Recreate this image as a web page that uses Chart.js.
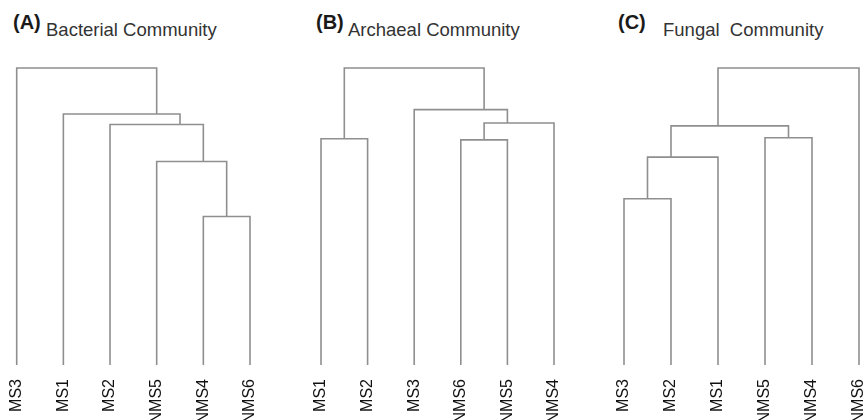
<!DOCTYPE html>
<html>
<head>
<meta charset="utf-8">
<script src="https://cdn.jsdelivr.net/npm/chart.js@4/dist/chart.umd.min.js"></script>
<style>
  html, body { margin: 0; padding: 0; background: #fff; overflow: hidden; }
  body { position: relative; width: 865px; height: 420px; }
  canvas { position: absolute; top: 0; }
  .tag { position: absolute; font: bold 20px "Liberation Sans", Arial, sans-serif; line-height: 20px; color: #1a1a1a; }
  .name { position: absolute; font: 18.5px "Liberation Sans", Arial, sans-serif; line-height: 18.5px; color: #333; white-space: pre; }
</style>
</head>
<body>
<div class="tag" style="left:13px; top:12px;">(A)</div>
<div class="name" style="left:46px; top:21px;">Bacterial Community</div>
<div class="tag" style="left:316px; top:12px;">(B)</div>
<div class="name" style="left:348px; top:21px;">Archaeal Community</div>
<div class="tag" style="left:618px; top:12px;">(C)</div>
<div class="name" style="left:663px; top:21px;">Fungal  Community</div>

<canvas id="chartA" width="290" height="420" style="left:0px"></canvas>
<canvas id="chartB" width="320" height="420" style="left:290px"></canvas>
<canvas id="chartC" width="320" height="420" style="left:580px"></canvas>

<script>
// leaf order along the x axis
const leavesA = ["MS3", "MS1", "MS2", "NMS5", "NMS4", "NMS6"];
const leavesB = ["MS1", "MS2", "MS3", "NMS6", "NMS5", "NMS4"];
const leavesC = ["MS3", "MS2", "MS1", "NMS5", "NMS4", "NMS6"];

// merges: each joins two members (leaf name, or index of an earlier merge)
const mergesA = [["NMS4", "NMS6"], ["NMS5", 0], ["MS2", 1], ["MS1", 2], ["MS3", 3]];
const heightsA = [0.50, 0.685, 0.81, 0.845, 1.00];

const mergesB = [["MS1", "MS2"], ["NMS6", "NMS5"], [1, "NMS4"], ["MS3", 2], [0, 3]];
const heightsB = [0.762, 0.758, 0.815, 0.86, 1.00];

const mergesC = [["MS3", "MS2"], [0, "MS1"], ["NMS5", "NMS4"], [1, 2], [3, "NMS6"]];
const heightsC = [0.56, 0.70, 0.765, 0.805, 1.00];

const lineColor = "#8f8f8f";

function buildLinks(leaves, merges, heights) {
	const members = [];   // leaf indices inside each merge
	const datasets = [];

	function info(m) {
		if (typeof m === "string") {
			const i = leaves.indexOf(m);
			return { leafs: [i], x: i, h: 0 };
		}
		const l = members[m];
		return { leafs: l, x: l.reduce((a, b) => a + b, 0) / l.length, h: heights[m] };
	}

	merges.forEach((pair, idx) => {
		const a = info(pair[0]);
		const b = info(pair[1]);
		const H = heights[idx];
		members.push(a.leafs.concat(b.leafs));
		datasets.push({
			data: [{ x: a.x, y: a.h }, { x: a.x, y: H }, { x: b.x, y: H }, { x: b.x, y: b.h }],
			showLine: true,
			borderColor: lineColor,
			borderWidth: 1.6,
			pointRadius: 0,
			tension: 0,
			fill: false,
			clip: false
		});
	});
	return datasets;
}

function drawDendrogram(id, leaves, merges, heights, padLeft, padRight) {
	new Chart(document.getElementById(id), {
		type: "scatter",
		data: { datasets: buildLinks(leaves, merges, heights) },
		options: {
			responsive: false,
			animation: false,
			layout: { padding: { left: padLeft, right: padRight, top: 68, bottom: 0 } },
			plugins: { legend: { display: false }, tooltip: { enabled: false } },
			scales: {
				x: {
					type: "linear",
					min: 0,
					max: leaves.length - 1,
					grid: { display: false, drawTicks: false },
					border: { display: false },
					ticks: {
						stepSize: 1,
						autoSkip: false,
						minRotation: 90,
						maxRotation: 90,
						padding: 14,
						color: "#111",
						font: { family: "'Liberation Sans', Arial, sans-serif", size: 16 },
						callback: v => leaves[v]
					},
					afterFit: scale => { scale.height = 55; }
				},
				y: { display: false, min: 0, max: 1 }
			}
		}
	});
}

drawDendrogram("chartA", leavesA, mergesA, heightsA, 16.7, 40);
drawDendrogram("chartB", leavesB, mergesB, heightsB, 31, 56);
drawDendrogram("chartC", leavesC, mergesC, heightsC, 44, 41);
</script>
</body>
</html>
